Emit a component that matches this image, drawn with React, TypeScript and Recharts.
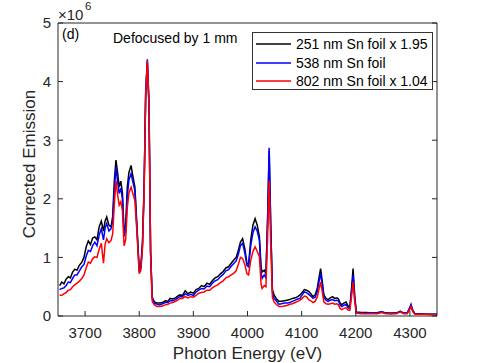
import React from "react";
import { LineChart, Line, XAxis, YAxis, Legend } from "recharts";

// photon energy (eV)
const energy = [
  3653, 3657, 3661, 3665, 3669, 3673, 3677, 3681, 3685, 3689, 3694, 3698, 3702, 3706, 3710, 3714,
  3718, 3722, 3726, 3730, 3734, 3737, 3740, 3744, 3748, 3751, 3754, 3757, 3760, 3763, 3766, 3769,
  3772, 3775, 3778, 3781, 3785, 3788, 3792, 3796, 3800, 3803, 3806, 3809, 3812, 3815, 3818, 3821,
  3824, 3828, 3833, 3838, 3843, 3848, 3853, 3857, 3862, 3867, 3871, 3875, 3880, 3885, 3890, 3895,
  3900, 3905, 3910, 3915, 3920, 3925, 3930, 3935, 3940, 3945, 3950, 3955, 3960, 3965, 3970, 3975,
  3979, 3983, 3987, 3991, 3995, 3999, 4002, 4006, 4010, 4014, 4018, 4022, 4025, 4027, 4031, 4034,
  4037, 4040, 4043, 4046, 4049, 4053, 4058, 4063, 4068, 4073, 4078, 4083, 4088, 4093, 4097, 4101,
  4105, 4109, 4113, 4117, 4121, 4125, 4129, 4132, 4135, 4138, 4141, 4145, 4149, 4153, 4157, 4161,
  4165, 4168, 4171, 4174, 4178, 4182, 4186, 4189, 4192, 4195, 4198, 4201, 4210, 4220, 4230, 4240,
  4248, 4255, 4265, 4275, 4282, 4288, 4295, 4299, 4302, 4305, 4309, 4320, 4330, 4340, 4350,
];

// corrected emission, x 10^6
const foil251 = [
  0.52, 0.58, 0.55, 0.63, 0.67, 0.65, 0.75, 0.8, 0.78, 0.86, 0.92, 1.0, 1.18, 1.28, 1.22, 1.33,
  1.35, 1.3, 1.52, 1.62, 1.45, 1.62, 1.69, 1.55, 1.52, 1.7, 2.3, 2.66, 2.45, 2.2, 2.3, 2.1,
  1.45, 1.55, 2.2, 2.45, 2.57, 2.4, 2.2, 1.5, 0.8, 0.85, 1.25, 2.2, 3.8, 4.33, 3.6, 1.1,
  0.32, 0.24, 0.22, 0.22, 0.23, 0.26, 0.25, 0.3, 0.29, 0.31, 0.34, 0.36, 0.35, 0.43, 0.38, 0.41,
  0.39, 0.45, 0.47, 0.52, 0.5, 0.56, 0.54, 0.6, 0.65, 0.67, 0.72, 0.76, 0.82, 0.84, 0.9, 0.96,
  1.0, 1.12, 1.26, 1.32, 1.15, 0.9, 0.88, 1.3, 1.55, 1.66, 1.55, 1.35, 0.85, 0.75, 0.78, 0.72,
  1.6, 2.82, 1.5, 0.45, 0.36, 0.3, 0.25, 0.25, 0.26, 0.27, 0.28, 0.3, 0.31, 0.33, 0.36, 0.4,
  0.45, 0.44, 0.42, 0.38, 0.33, 0.36, 0.48, 0.65, 0.81, 0.6, 0.36, 0.3, 0.28, 0.31, 0.33, 0.3,
  0.31, 0.29, 0.22, 0.19, 0.22, 0.24, 0.17, 0.15, 0.45, 0.81, 0.35, 0.07, 0.06, 0.06, 0.05, 0.06,
  0.07, 0.05, 0.05, 0.05, 0.08, 0.05, 0.05, 0.12, 0.18, 0.1, 0.04, 0.04, 0.03, 0.03, 0.03,
];

const foil538 = [
  0.45, 0.47, 0.48, 0.52, 0.58, 0.57, 0.64, 0.7, 0.7, 0.76, 0.84, 0.88, 1.02, 1.12, 1.1, 1.2,
  1.26, 1.2, 1.38, 1.49, 1.3, 1.5, 1.58, 1.45, 1.49, 1.62, 2.15, 2.54, 2.3, 2.09, 2.18, 2.0,
  1.36, 1.45, 2.05, 2.32, 2.43, 2.3, 2.14, 1.45, 0.76, 0.82, 1.2, 2.15, 3.85, 4.38, 3.65, 1.1,
  0.3, 0.22, 0.2, 0.19, 0.21, 0.23, 0.23, 0.26, 0.26, 0.28, 0.31, 0.33, 0.33, 0.38, 0.35, 0.37,
  0.35, 0.41, 0.44, 0.47, 0.46, 0.51, 0.5, 0.56, 0.6, 0.62, 0.67, 0.71, 0.77, 0.79, 0.85, 0.9,
  0.94, 1.05, 1.2, 1.24, 1.08, 0.86, 0.84, 1.2, 1.42, 1.52, 1.45, 1.29, 0.75, 0.64, 0.7, 0.65,
  1.6, 2.87, 1.52, 0.4, 0.3, 0.26, 0.2, 0.21, 0.22, 0.22, 0.23, 0.25, 0.27, 0.29, 0.3, 0.36,
  0.41, 0.4, 0.37, 0.34, 0.3, 0.32, 0.42, 0.58, 0.73, 0.53, 0.32, 0.27, 0.25, 0.27, 0.28, 0.26,
  0.27, 0.26, 0.19, 0.16, 0.18, 0.2, 0.14, 0.13, 0.4, 0.7, 0.3, 0.06, 0.05, 0.05, 0.05, 0.05,
  0.07, 0.05, 0.04, 0.05, 0.08, 0.05, 0.05, 0.13, 0.2, 0.1, 0.04, 0.03, 0.03, 0.03, 0.03,
];

const foil802 = [
  0.36, 0.35, 0.38, 0.4, 0.44, 0.45, 0.5, 0.53, 0.56, 0.59, 0.64, 0.7, 0.82, 0.92, 0.9, 0.98,
  1.01, 1.0, 1.14, 1.24, 0.9, 1.22, 1.32, 1.25, 1.29, 1.4, 1.9, 2.31, 2.08, 1.89, 1.95, 1.8,
  1.2, 1.3, 1.85, 2.1, 2.2, 2.1, 1.97, 1.4, 0.72, 0.78, 1.15, 2.1, 3.78, 4.35, 3.62, 1.05,
  0.25, 0.19, 0.16, 0.16, 0.17, 0.19, 0.2, 0.22, 0.23, 0.25, 0.27, 0.3, 0.3, 0.33, 0.31, 0.33,
  0.32, 0.35, 0.39, 0.4, 0.41, 0.44, 0.44, 0.48, 0.51, 0.53, 0.57, 0.6, 0.65, 0.67, 0.7, 0.73,
  0.77, 0.88, 1.0, 0.98, 0.88, 0.72, 0.7, 0.95, 1.1, 1.18, 1.1, 1.01, 0.55, 0.47, 0.52, 0.5,
  1.3, 2.31, 1.2, 0.32, 0.24, 0.2, 0.16, 0.16, 0.17, 0.18, 0.2, 0.21, 0.23, 0.25, 0.27, 0.3,
  0.34, 0.33, 0.28, 0.26, 0.23, 0.25, 0.33, 0.46, 0.58, 0.42, 0.24, 0.21, 0.2, 0.21, 0.22, 0.2,
  0.21, 0.19, 0.13, 0.11, 0.13, 0.14, 0.1, 0.1, 0.32, 0.58, 0.25, 0.05, 0.04, 0.04, 0.04, 0.04,
  0.06, 0.04, 0.04, 0.04, 0.07, 0.04, 0.04, 0.1, 0.16, 0.08, 0.03, 0.03, 0.03, 0.02, 0.02,
];

const xTicks = [3700, 3800, 3900, 4000, 4100, 4200, 4300];
const yTicks = [0, 1, 2, 3, 4, 5];

const data = energy.map((e, i) => ({
  e,
  k: foil251[i],
  b: foil538[i],
  r: foil802[i],
}));

const FONT = '"Liberation Sans", Arial, Helvetica, sans-serif';
const AXIS = "#262626";

const LegendBox = ({ payload }: any) => (
  <div
    style={{
      width: 181,
      height: 58,
      boxSizing: "border-box",
      border: "1px solid #333",
      background: "white",
      paddingTop: 2,
      fontFamily: FONT,
      fontSize: 14,
      color: "#000",
    }}
  >
    {(payload || []).map((p: any) => (
      <div key={p.value} style={{ height: 18.5, display: "flex", alignItems: "center" }}>
        <svg width={40} height={4} style={{ marginLeft: 3 }}>
          <line x1={0} y1={2} x2={35} y2={2} stroke={p.color} strokeWidth={1.5} />
        </svg>
        <span style={{ whiteSpace: "nowrap" }}>{p.value}</span>
      </div>
    ))}
  </div>
);

export default function App() {
  return (
    <div style={{ position: "absolute", left: 0, top: 0, width: 479, height: 363, background: "white" }}>
      <LineChart
        width={479}
        height={363}
        data={data}
        margin={{ top: 22, right: 41, left: 0, bottom: 0 }}
      >
        <XAxis
          dataKey="e"
          type="number"
          domain={[3650, 4350]}
          ticks={xTicks}
          allowDataOverflow
          height={47}
          stroke={AXIS}
          tickSize={-5}
          tickMargin={16}
          tick={{ fontSize: 15, fill: AXIS, fontFamily: FONT }}
        />
        <XAxis
          xAxisId="top"
          orientation="top"
          type="number"
          domain={[3650, 4350]}
          ticks={xTicks}
          allowDataOverflow
          height={1}
          stroke={AXIS}
          tickSize={-5}
          tickFormatter={() => ""}
        />
        <YAxis
          type="number"
          domain={[0, 5]}
          ticks={yTicks}
          allowDataOverflow
          width={58}
          stroke={AXIS}
          tickSize={-5}
          tickMargin={12}
          tick={{ fontSize: 15, fill: AXIS, fontFamily: FONT }}
        />
        <YAxis
          yAxisId="right"
          orientation="right"
          type="number"
          domain={[0, 5]}
          ticks={yTicks}
          allowDataOverflow
          width={1}
          stroke={AXIS}
          tickSize={-5}
          tickFormatter={() => ""}
        />
        <Legend
          layout="horizontal"
          verticalAlign="middle"
          align="center"
          wrapperStyle={{ position: "absolute", left: 252, top: 32, width: 181, height: 58 }}
          content={LegendBox}
        />
        <Line
          type="linear"
          dataKey="k"
          name="251 nm Sn foil x 1.95"
          stroke="#000000"
          strokeWidth={1.5}
          dot={false}
          isAnimationActive={false}
        />
        <Line
          type="linear"
          dataKey="b"
          name="538 nm Sn foil"
          stroke="#0000ff"
          strokeWidth={1.5}
          dot={false}
          isAnimationActive={false}
        />
        <Line
          type="linear"
          dataKey="r"
          name="802 nm Sn foil x 1.04"
          stroke="#ff0000"
          strokeWidth={1.5}
          dot={false}
          isAnimationActive={false}
        />
      </LineChart>
      <svg
        width={479}
        height={363}
        style={{ position: "absolute", left: 0, top: 0, pointerEvents: "none" }}
        fontFamily={FONT}
      >
        <text x={58} y={20} fontSize={15} fill={AXIS}>
          ×10
        </text>
        <text x={85} y={10} fontSize={11.5} fill={AXIS}>
          6
        </text>
        <text x={62} y={39} fontSize={14} fill="#000">
          (d)
        </text>
        <text x={113} y={43} fontSize={14} fill="#000">
          Defocused by 1 mm
        </text>
        <text x={247.5} y={359} fontSize={17} fill={AXIS} textAnchor="middle">
          Photon Energy (eV)
        </text>
        <text x={35} y={164} fontSize={17} fill={AXIS} textAnchor="middle" transform="rotate(-90, 35, 164)">
          Corrected Emission
        </text>
      </svg>
    </div>
  );
}
